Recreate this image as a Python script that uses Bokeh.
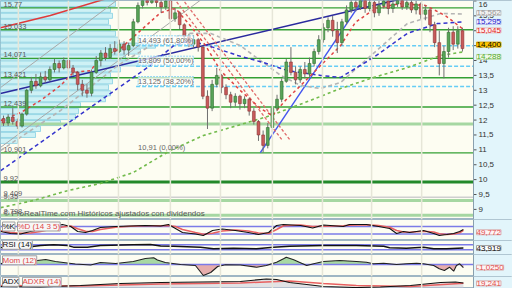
import numpy as np
from bokeh.plotting import figure
from bokeh.layouts import column
from bokeh.models import Range1d, Span, Label, LabelSet, ColumnDataSource
from bokeh.embed import file_html
from bokeh.resources import INLINE
from bokeh.core.properties import value

FONT = "Liberation Sans"
BG = "#fdfdf2"
AXBG = "#e2f5fb"
OUTLINE = "#9fb6c4"

# ---------------- price data (daily candles) ----------------
opens = [12.05, 11.90, 12.10, 11.95, 11.80, 12.20, 13.00, 13.30, 13.15, 13.45,
         13.35, 13.70, 13.90, 13.75, 14.00, 13.75, 13.60, 13.20, 13.00, 12.90,
         13.60, 14.00, 14.25, 14.10, 14.40, 14.30, 14.55, 14.35, 14.50, 15.30,
         15.85, 16.05, 15.95, 16.10, 15.95, 15.80, 16.00, 15.40, 15.60, 15.20,
         14.80, 14.55, 14.70, 14.45, 12.80, 12.40, 13.20, 13.50, 13.10, 12.85,
         12.60, 12.80, 12.55, 12.70, 12.30, 11.95, 11.50, 11.15, 11.75, 12.40,
         12.70, 13.30, 13.95, 13.60, 13.35, 13.70, 13.55, 13.90, 14.30, 14.70,
         15.10, 15.35, 15.00, 14.60, 15.30, 15.70, 15.95, 15.80, 16.05, 15.75,
         15.95, 15.60, 15.85, 16.00, 15.75, 15.90, 16.05, 15.80, 15.95, 15.70,
         15.90, 15.55, 15.70, 15.20, 14.60, 13.90, 14.30, 14.95, 14.55, 15.00]
closes = [11.90, 12.10, 11.95, 11.80, 12.20, 13.00, 13.30, 13.15, 13.45, 13.35,
          13.70, 13.90, 13.75, 14.00, 13.75, 13.60, 13.20, 13.00, 12.90, 13.60,
          14.00, 14.25, 14.10, 14.40, 14.30, 14.55, 14.35, 14.50, 15.30, 15.85,
          16.05, 15.95, 16.10, 15.95, 15.80, 16.00, 15.40, 15.60, 15.20, 14.80,
          14.55, 14.70, 14.45, 12.80, 12.40, 13.20, 13.50, 13.10, 12.85, 12.60,
          12.80, 12.55, 12.70, 12.30, 11.95, 11.50, 11.15, 11.75, 12.40, 12.70,
          13.30, 13.95, 13.60, 13.35, 13.70, 13.55, 13.90, 14.30, 14.70, 15.10,
          15.35, 15.00, 14.60, 15.30, 15.70, 15.95, 15.80, 16.05, 15.75, 15.95,
          15.60, 15.85, 16.00, 15.75, 15.90, 16.05, 15.80, 15.95, 15.70, 15.90,
          15.55, 15.70, 15.20, 14.60, 13.90, 14.30, 14.95, 14.55, 15.00, 14.40]
highs = [12.15, 12.20, 12.40, 12.05, 12.25, 13.05, 13.45, 13.55, 13.60, 13.65,
         13.80, 14.05, 14.00, 14.10, 14.05, 13.85, 13.65, 13.35, 13.20, 13.70,
         14.15, 14.35, 14.45, 14.55, 14.65, 14.70, 14.65, 14.60, 15.40, 15.95,
         16.15, 16.20, 16.25, 16.20, 16.05, 16.10, 16.05, 15.75, 15.65, 15.25,
         14.90, 14.85, 14.75, 14.50, 13.00, 13.35, 13.75, 13.55, 13.20, 12.95,
         12.90, 12.85, 12.80, 12.75, 12.40, 12.00, 11.65, 11.90, 12.50, 12.85,
         13.40, 14.05, 14.45, 13.80, 13.80, 13.95, 14.10, 14.40, 14.85, 15.25,
         15.45, 15.50, 15.30, 15.40, 15.85, 16.10, 16.10, 16.20, 16.15, 16.10,
         16.00, 16.00, 16.15, 16.10, 16.05, 16.20, 16.15, 16.10, 16.05, 16.00,
         15.95, 15.85, 15.75, 15.30, 15.00, 14.50, 15.10, 15.15, 15.15, 15.10]
lows = [11.80, 11.80, 11.85, 11.70, 11.75, 12.15, 12.90, 13.05, 13.10, 13.25,
        13.30, 13.60, 13.60, 13.70, 13.65, 13.50, 13.00, 12.80, 12.75, 12.80,
        13.55, 13.80, 14.00, 14.05, 14.20, 14.25, 14.20, 14.15, 14.45, 15.25,
        15.75, 15.85, 15.90, 15.80, 15.60, 15.70, 15.30, 15.30, 15.05, 14.70,
        14.45, 14.40, 14.30, 12.70, 11.70, 12.30, 13.10, 12.90, 12.70, 12.40,
        12.45, 12.35, 12.40, 12.15, 11.85, 11.30, 10.91, 11.05, 11.60, 12.30,
        12.60, 13.25, 13.50, 13.20, 13.25, 13.40, 13.45, 13.80, 14.20, 14.60,
        14.95, 14.80, 14.25, 14.50, 15.20, 15.60, 15.65, 15.70, 15.60, 15.65,
        15.45, 15.50, 15.75, 15.55, 15.60, 15.80, 15.70, 15.70, 15.60, 15.55,
        15.40, 15.35, 14.95, 14.45, 13.50, 13.40, 14.10, 14.35, 14.40, 14.30]
days = list(range(len(closes)))
month_starts = [3.2, 14.0, 24.8, 36.0, 46.8, 58.0, 68.8, 79.4, 90.2]

# volume by price
vp_price = [16.1, 15.9, 15.7, 15.5, 15.3, 15.1, 14.9, 14.7, 14.5, 14.3, 14.1, 13.9, 13.7,
            13.5, 13.3, 13.1, 12.9, 12.7, 12.5, 12.3, 12.1, 11.9, 11.7, 11.5, 11.3]
vp_volume = [112, 115, 110, 112, 108, 110, 115, 118, 155, 140, 125, 150, 120,
             110, 112, 108, 110, 105, 80, 78, 75, 60, 40, 35, 17]

# support / resistance levels
level_values = [15.77, 15.033, 14.071, 13.421, 12.439, 10.901]
level_labels = ["15,77", "15,033", "14,071", "13,421", "12,439", "10,901"]
major_level = [9.92]
major_level_label = ["9,92"]
weak_levels = [11.87, 9.30, 8.80]
grey_level = [9.409]
extra_label_values = [9.409, 9.30, 8.80]
extra_labels = ["9,409", "9,35", "8,798"]

# fibonacci retracement
fib_values = [14.493, 13.809, 13.125]
fib_labels = ["14,493 (61,80%)", "13,809 (50,00%)", "13,125 (38,20%)"]
fib_zero = [10.91]
fib_zero_label = ["10,91 (0,00%)"]
fib_start = 28.6

# trend lines (anchor points)
trend_long_x = [-0.65, 101.4]
trend_long_y = [12.89, 16.64]
trend_up_x = [55.4, 80.0]
trend_up_y = [10.91, 16.62]
red_curve_x = [-0.65, 10.1, 21.0, 26.0]
red_curve_y = [15.10, 15.51, 16.02, 16.25]
grey1_x = [-0.65, 27.0]
grey1_y = [13.09, 16.32]
grey2_x = [-0.65, 44.0]
grey2_y = [11.08, 16.2]
desc1_x = [36.7, 60.2]
desc1_y = [16.1, 11.31]
desc2_x = [38.4, 61.9]
desc2_y = [16.1, 11.31]

# moving averages
ma_red_x = [-0.6, 3.7, 8.0, 12.3, 15.1, 18.8, 20.9, 25.2, 29.6, 33.9, 37.1, 40.3, 43.6, 46.8,
            51.1, 55.4, 58.0, 60.8, 64.1, 68.4, 72.7, 75.9, 80.2, 85.6, 91.0, 95.3, 99.2]
ma_red_y = [11.98, 12.25, 12.66, 13.16, 13.60, 13.66, 14.10, 14.40, 15.01, 15.61, 15.75, 15.17,
            14.50, 13.66, 12.99, 12.39, 12.15, 12.66, 13.16, 13.83, 14.50, 15.28, 15.75, 15.91,
            15.85, 15.51, 15.045]
ma_blue_x = [-0.6, 10.1, 20.9, 31.1, 36.7, 40.3, 45.3, 50.5, 56.1, 61.3, 68.4, 72.7, 79.8, 87.1, 93.6, 99.2]
ma_blue_y = [10.30, 11.48, 12.66, 13.77, 14.50, 14.67, 14.44, 14.17, 13.93, 13.66, 13.50, 13.43,
             14.10, 14.91, 15.24, 15.295]
ma_grey_x = [-0.6, 12.3, 24.6, 31.7, 39.3, 44.7, 51.1, 55.4, 59.8, 64.1, 68.4, 72.7, 79.8, 87.1, 94.3, 99.2]
ma_grey_y = [10.98, 12.32, 13.83, 14.50, 14.91, 14.91, 14.50, 14.00, 13.50, 13.16, 13.06, 13.26,
             14.24, 15.24, 15.58, 15.562]
ma_green_x = [-0.6, 6.5, 13.8, 20.9, 28.0, 36.0, 43.1, 50.5, 57.6, 66.2, 72.7, 79.8, 87.1, 94.3, 99.2]
ma_green_y = [9.06, 9.30, 9.63, 9.87, 10.24, 10.98, 11.48, 11.82, 12.15, 12.66, 13.06, 13.43,
              13.76, 14.17, 14.288]

# indicators
stoch_x = [-0.6, 1.5, 3.7, 5.8, 8.0, 10.1, 12.7, 14.5, 16.0, 17.7, 19.2, 20.9, 24.2, 27.4, 30.6,
           33.9, 35.6, 37.1, 38.6, 41.4, 43.1, 45.1, 47.2, 50.0, 52.8, 55.0, 57.2, 58.9, 60.4,
           64.1, 66.7, 69.0, 73.3, 74.6, 78.3, 80.9, 83.3, 84.8, 86.3, 87.6, 89.1, 90.6, 92.8,
           94.0, 95.6, 97.1, 98.4, 99.2]
stoch_k = [40, 24, 20, 40, 56, 72, 96, 80, 40, 32, 48, 72, 80, 84, 88, 84, 96, 64, 32, 20,
           8, 48, 60, 48, 32, 16, 32, 88, 96, 88, 68, 92, 80, 96, 96, 80, 64, 24, 40, 32,
           40, 48, 24, 8, 16, 24, 40, 56]
stoch_d = [45, 32, 26, 28, 40, 56, 76, 84, 62, 42, 40, 56, 74, 82, 86, 86, 88, 80, 56, 32,
           18, 26, 44, 52, 44, 28, 24, 56, 86, 92, 80, 82, 86, 90, 94, 88, 74, 48, 36, 34,
           38, 42, 36, 22, 16, 20, 30, 49.772]
rsi_x = [-0.6, 3.7, 8.0, 10.8, 13.8, 15.1, 18.1, 20.9, 28.0, 31.7, 33.9, 36.7, 42.5, 45.3,
         49.6, 54.6, 58.2, 61.7, 69.0, 76.1, 82.0, 83.3, 86.9, 90.6, 92.8, 95.6, 99.2]
rsi_v = [48.4, 44.4, 64.4, 70.0, 64.4, 50.8, 50.8, 64.4, 70.0, 72.4, 60.4, 58.8, 50.8, 38.0,
         42.8, 38.0, 50.8, 58.8, 64.4, 64.4, 58.8, 46.0, 42.8, 50.8, 38.0, 38.0, 43.919]
mom_x = [-0.6, 3.7, 7.3, 9.1, 11.2, 12.9, 15.5, 18.8, 20.9, 24.2, 28.0, 30.6, 32.4, 33.2,
         34.9, 38.2, 41.4, 43.1, 44.7, 46.2, 47.9, 51.1, 54.6, 56.7, 58.9, 60.4, 61.0, 62.6,
         63.8, 65.4, 66.9, 69.0, 72.5, 76.1, 78.3, 79.8, 82.0, 84.8, 86.9, 89.1, 90.6, 92.8,
         94.0, 95.1, 96.2, 97.1, 97.7, 98.4, 99.2]
mom_v = [0.3, 0.9, 1.33, 1.67, 1.0, 0.67, 0.17, -0.17, 0.67, 0.33, 1.0, 2.0, 2.23, 1.5,
         0.67, 0.0, -0.33, -3.67, -2.67, -0.67, -0.1, -0.17, -0.9, -0.33, 0.77, 1.9, 2.43, 1.57,
         0.77, -0.33, 0.23, 1.0, 1.33, 1.0, 0.77, 0.23, 0.43, 0.0, 0.23, 0.43, 0.23, -0.33,
         -1.43, -2.0, -0.9, -2.23, -0.33, 0.23, -1.025]
adx_x = [-0.6, 8.0, 16.6, 25.2, 33.9, 42.5, 51.1, 56.7, 58.9, 61.7, 65.4, 69.0, 76.1, 81.3,
         87.8, 94.3, 97.5, 99.2]
adx_v = [7.5, 5.6, 11.3, 18.8, 22.5, 24.4, 26.3, 35.6, 33.8, 22.5, 15.0, 7.5, 3.8, 5.6,
         11.3, 22.5, 24.4, 20.6]
adxr_x = [-0.6, 16.6, 33.9, 51.1, 61.7, 69.0, 76.1, 87.8, 99.2]
adxr_v = [11.3, 9.4, 16.9, 20.6, 28.1, 18.8, 11.3, 7.5, 19.241]

price_ticks = [9 + 0.5 * i for i in range(15)]

# ---------------- layout constants ----------------
W = 512
PX_PER_DAY = 4.636
X0 = -0.647
X_EDGE = X0 + 473 / PX_PER_DAY      # start of the price-scale strip
X1 = X0 + W / PX_PER_DAY
TICK_LEN = 3 / PX_PER_DAY
VP_SCALE = 1 / PX_PER_DAY
x_range = Range1d(X0, X1)


def fmt(v, nd):
    return f"{v:.{nd}f}".replace(".", ",")


def base_fig(h, yr):
    f = figure(width=W, height=h, x_range=x_range, y_range=Range1d(*yr),
               output_backend="svg", toolbar_location=None,
               x_axis_location=None, y_axis_location=None,
               min_border_left=0, min_border_right=0, min_border_top=0, min_border_bottom=0,
               background_fill_color=BG, border_fill_color=AXBG,
               outline_line_color=OUTLINE)
    f.grid.visible = False
    for m in month_starts:
        f.add_layout(Span(location=m, dimension="height", line_color="#e6e6d8", line_width=1.5))
    return f


def hlines(fig, ys, color, width, dash="solid", start=X0):
    fig.segment(x0=start, y0=ys, x1=X_EDGE, y1=ys, line_color=color, line_width=width, line_dash=dash)


def finish(fig, yr, ticks=None):
    fig.quad(left=X_EDGE, right=X1, bottom=yr[0], top=yr[1], fill_color=AXBG, line_color=None)
    fig.add_layout(Span(location=X_EDGE, dimension="height", line_color="#8aa0ae", line_width=1))
    if ticks:
        fig.segment(x0=X_EDGE, y0=ticks, x1=X_EDGE + TICK_LEN, y1=ticks,
                    line_color="#555555", line_width=1)
        labels = [str(int(t)) if t == int(t) else fmt(t, 1) for t in ticks]
        # keep the topmost label fully inside the panel
        yoffs = [-4 if t >= yr[1] - 0.05 else 0 for t in ticks]
        src = ColumnDataSource(dict(x=[X_EDGE] * len(ticks), y=ticks, t=labels, yo=yoffs))
        fig.add_layout(LabelSet(x="x", y="y", text="t", source=src, x_offset=5, y_offset="yo",
                                text_baseline="middle", text_font=value(FONT),
                                text_font_size="8px", text_color="#333333"))


def value_box(fig, y, text, color, bg, border, yoff=0, bold=False):
    fig.add_layout(Label(x=X_EDGE, y=y, x_offset=3, y_offset=yoff,
                         text=text, text_color=color, text_font=FONT, text_font_size="8px",
                         text_font_style="bold" if bold else "normal",
                         text_baseline="middle", background_fill_color=bg,
                         border_line_color=border))


def name_box(fig, y, text, color, xoff):
    fig.add_layout(Label(x=X0, y=y, x_offset=xoff, text=text, text_color=color,
                         text_font=FONT, text_font_size="8px", text_baseline="middle",
                         background_fill_color="#f7f7f7", border_line_color="#a0a0a0"))


# ---------------- main price panel ----------------
YR_MAIN = (8.661, 16.015)
p = base_fig(219, YR_MAIN)

vp_right = X0 + np.array(vp_volume) * VP_SCALE
p.hbar(y=vp_price, height=0.17, left=X0, right=vp_right,
       fill_color="#c6eef6", fill_alpha=0.85, line_color="#86cfe2", line_width=0.8)

hlines(p, weak_levels, "#a6d7a2", 3)
hlines(p, grey_level, "#cfcfcf", 1.5)
hlines(p, level_values, "#34a034", 1.3)
hlines(p, major_level, "#23892a", 3)
hlines(p, fib_values, "#66cdf5", 1.6, dash="4 2", start=fib_start)

p.line(grey1_x, grey1_y, line_color="#a8a8a8", line_width=1)
p.line(grey2_x, grey2_y, line_color="#a8a8a8", line_width=1)
p.line(red_curve_x, red_curve_y, line_color="#e03a3a", line_width=1.6)
p.line(trend_long_x, trend_long_y, line_color="#2a2a9e", line_width=1.6)
p.line(trend_up_x, trend_up_y, line_color="#4455ee", line_width=1.4)
p.line(desc1_x, desc1_y, line_color="#e06a6a", line_width=1.3, line_dash="3 2")
p.line(desc2_x, desc2_y, line_color="#e06a6a", line_width=1.3, line_dash="3 2")

p.line(ma_green_x, ma_green_y, line_color="#72bb4c", line_width=1.6, line_dash="3 3")
p.line(ma_grey_x, ma_grey_y, line_color="#b5b5b5", line_width=1.6, line_dash="4 3")
p.line(ma_blue_x, ma_blue_y, line_color="#3434cc", line_width=1.5, line_dash="4 3")
p.line(ma_red_x, ma_red_y, line_color="#e04444", line_width=1.5, line_dash="3 3")

o = np.array(opens); c = np.array(closes); hi = np.array(highs); lo = np.array(lows)
d = np.array(days, dtype=float)
up = c >= o
p.segment(d, hi, d, lo, line_color="#707070", line_width=1)
p.vbar(x=d[up], width=0.6, top=c[up], bottom=o[up],
       fill_color="#58a358", line_color="#2f6e2f", line_width=0.6)
p.vbar(x=d[~up], width=0.6, top=o[~up], bottom=c[~up],
       fill_color="#c85a5a", line_color="#8a3434", line_width=0.6)

finish(p, YR_MAIN, price_ticks)

lvl_src = ColumnDataSource(dict(x=[X0] * (len(level_values) + 1 + len(extra_labels)),
                                y=level_values + major_level + extra_label_values,
                                t=level_labels + major_level_label + extra_labels))
p.add_layout(LabelSet(x="x", y="y", text="t", source=lvl_src, x_offset=3, y_offset=1,
                      text_baseline="bottom", text_font=value(FONT), text_font_size="7.5px",
                      text_color="#5a5a5a"))
fib_src = ColumnDataSource(dict(x=[fib_start] * 3, y=fib_values, t=fib_labels))
p.add_layout(LabelSet(x="x", y="y", text="t", source=fib_src, x_offset=2, y_offset=1,
                      text_baseline="bottom", text_font=value(FONT), text_font_size="7.5px",
                      text_color="#666666", background_fill_color="#ffffff",
                      background_fill_alpha=0.7, border_line_color="#8fd6f2",
                      border_line_dash="2 1"))
fz_src = ColumnDataSource(dict(x=[fib_start], y=fib_zero, t=fib_zero_label))
p.add_layout(LabelSet(x="x", y="y", text="t", source=fz_src, x_offset=2, y_offset=1,
                      text_baseline="bottom", text_font=value(FONT), text_font_size="7.5px",
                      text_color="#666666"))

p.add_layout(Label(x=X0, y=8.86, x_offset=3,
                   text="© ProRealTime.com  Históricos ajustados con dividendos",
                   text_font=FONT, text_font_size="8px", text_color="#555555",
                   text_baseline="middle"))

value_box(p, ma_grey_y[-1], fmt(ma_grey_y[-1], 3), "#9a9a9a", "#f2f2f2", "#c8c8c8", yoff=1)
value_box(p, ma_blue_y[-1], fmt(ma_blue_y[-1], 3), "#2222cc", "#eef0ff", "#b8bce8")
value_box(p, ma_red_y[-1], fmt(ma_red_y[-1], 3), "#dd2222", "#fff0f0", "#e8b8b8", yoff=-1)
value_box(p, closes[-1], fmt(closes[-1], 3), "#000000", "#ffc800", "#d9a400", yoff=4)
value_box(p, ma_green_y[-1], fmt(ma_green_y[-1], 3), "#55aa33", "#f0fae8", "#bcdcae", yoff=-5)

# ---------------- stochastic ----------------
YR_S = (-32, 136)
s = base_fig(21, YR_S)
hlines(s, [80, 20], "#7b7be8", 1.5)
s.line(stoch_x, stoch_d, line_color="#e86060", line_width=1.6)
s.line(stoch_x, stoch_k, line_color="#111111", line_width=1.1)
finish(s, YR_S)
name_box(s, 80, "%K", "#111111", 2)
name_box(s, 80, "%D (14 3 5)", "#e04848", 17)
value_box(s, stoch_d[-1], fmt(stoch_d[-1], 3), "#e05050", "#fff4f4", "#d8b0b0", yoff=-2)

# ---------------- RSI ----------------
YR_R = (-7.6, 104.4)
r = base_fig(14, YR_R)
hlines(r, [70, 30], "#7b7be8", 1.5)
r.line(rsi_x, rsi_v, line_color="#111111", line_width=1.4)
finish(r, YR_R)
name_box(r, 70, "RSI (14)", "#111111", 2)
value_box(r, rsi_v[-1], fmt(rsi_v[-1], 3), "#111111", "#ffffff", "#a0a0a0")

# ---------------- Momentum ----------------
YR_M = (-4, 3.33)
m = base_fig(22, YR_M)
mv = np.array(mom_v)
m.varea(x=mom_x, y1=0, y2=np.maximum(mv, 0), fill_color="#9ed49a", fill_alpha=0.9)
m.varea(x=mom_x, y1=np.minimum(mv, 0), y2=0, fill_color="#e3a4a4", fill_alpha=0.9)
hlines(m, [0], "#7b7be8", 1.5)
m.line(mom_x, mom_v, line_color="#222222", line_width=1.1)
finish(m, YR_M)
name_box(m, 1.4, "Mom (12)", "#e04848", 2)
value_box(m, mom_v[-1], fmt(mom_v[-1], 4), "#e05050", "#fff4f4", "#d8b0b0")

# ---------------- ADX ----------------
YR_A = (0, 45)
a = base_fig(12, YR_A)
a.varea(x=adx_x, y1=0, y2=adx_v, fill_color="#c8c8d8", fill_alpha=0.5)
a.line(adxr_x, adxr_v, line_color="#e86060", line_width=1.5)
a.line(adx_x, adx_v, line_color="#111111", line_width=1.2)
finish(a, YR_A)
name_box(a, 25, "ADX", "#111111", 2)
name_box(a, 25, "ADXR (14)", "#e04848", 22)
value_box(a, adxr_v[-1], fmt(adxr_v[-1], 3), "#e05050", "#fff4f4", "#d8b0b0")

layout = column(p, s, r, m, a, spacing=0)
open("out.html", "w").write(file_html(layout, INLINE))
